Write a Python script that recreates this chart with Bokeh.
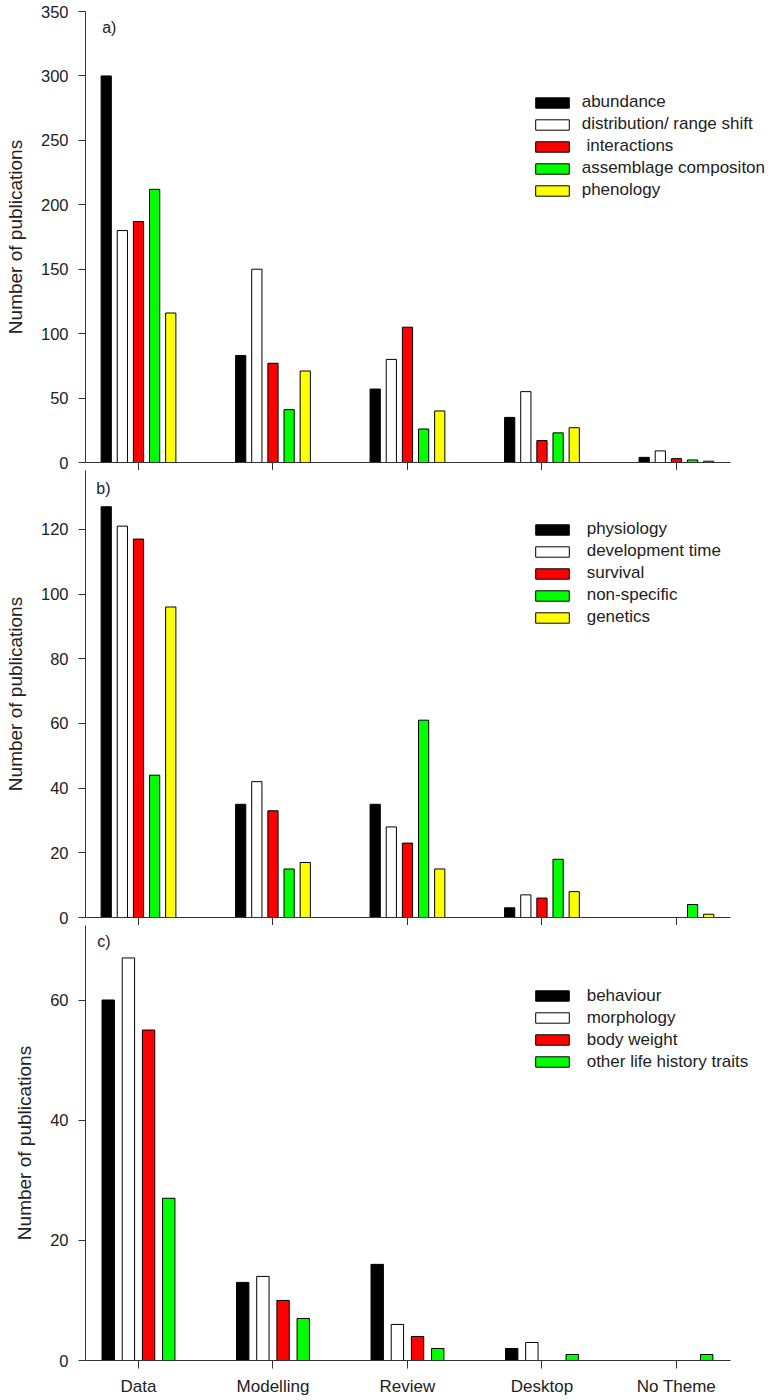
from bokeh.plotting import figure
from bokeh.layouts import column
from bokeh.models import Range1d, FixedTicker, Legend, LegendItem, Label
from bokeh.embed import file_html
from bokeh.resources import INLINE
import numpy as np

categories = ["Data", "Modelling", "Review", "Desktop", "No Theme"]

# panel a)
a_series = ["abundance", "distribution/ range shift", " interactions",
            "assemblage compositon", "phenology"]
a_abundance = [300, 83, 57, 35, 4]
a_distribution = [180, 150, 80, 55, 9]
a_interactions = [187, 77, 105, 17, 3]
a_assemblage = [212, 41, 26, 23, 2]
a_phenology = [116, 71, 40, 27, 1]
a_ticks = [0, 50, 100, 150, 200, 250, 300, 350]

# panel b)
b_series = ["physiology", "development time", "survival", "non-specific", "genetics"]
b_physiology = [127, 35, 35, 3, 0]
b_development = [121, 42, 28, 7, 0]
b_survival = [117, 33, 23, 6, 0]
b_nonspecific = [44, 15, 61, 18, 4]
b_genetics = [96, 17, 15, 8, 1]
b_ticks = [0, 20, 40, 60, 80, 100, 120]

# panel c)
c_series = ["behaviour", "morphology", "body weight", "other life history traits"]
c_behaviour = [60, 13, 16, 2, 0]
c_morphology = [67, 14, 6, 3, 0]
c_bodyweight = [55, 10, 4, 0, 0]
c_other = [27, 7, 2, 1, 1]
c_ticks = [0, 20, 40, 60]

colors5 = ["#000000", "#FFFFFF", "#FF0000", "#00FF00", "#FFFF00"]
colors4 = ["#000000", "#FFFFFF", "#FF0000", "#00FF00"]

FONT = "Liberation Sans"
TXT = "#222222"
AX = "#333333"
W = 776
LEFT = 85
X0, X1, XEND = -0.394, 4.4, 4.744


def make_panel(names, values, colors, yend, ticks, height, mtop, mbottom,
               show_x_labels, bar_w, step, leg_loc, leg_standoff, tag, tag_xy):
    p = figure(width=W, height=height, output_backend="svg", toolbar_location=None,
               x_range=Range1d(X0, XEND), y_range=Range1d(0, yend),
               min_border_left=LEFT, min_border_right=0,
               min_border_top=mtop, min_border_bottom=mbottom)
    p.outline_line_color = None
    p.xgrid.visible = False
    p.ygrid.visible = False
    p.background_fill_color = None
    p.border_fill_color = None

    x = np.arange(len(categories))
    n = len(names)
    items = []
    for i, (nm, vals, col) in enumerate(zip(names, values, colors)):
        off = (i - (n - 1) / 2) * step
        r = p.vbar(x=x + off, top=vals, bottom=0, width=bar_w,
                   fill_color=col, line_color="#000000", line_width=1)
        items.append(LegendItem(label=nm, renderers=[r]))

    leg = Legend(items=items, location=leg_loc, padding=0, spacing=2, margin=0,
                 glyph_width=42, glyph_height=13, label_height=13,
                 label_standoff=leg_standoff, border_line_color=None,
                 background_fill_alpha=0, label_text_font=FONT,
                 label_text_font_size="17px", label_text_color=TXT)
    p.add_layout(leg)

    # x axis
    xa = p.xaxis[0]
    xa.bounds = (X0, X1)
    xa.ticker = FixedTicker(ticks=list(x))
    xa.minor_tick_line_color = None
    xa.major_tick_in = 0
    xa.major_tick_out = 8
    xa.axis_line_color = AX
    xa.major_tick_line_color = AX
    xa.major_label_text_font = FONT
    xa.major_label_text_color = TXT
    if show_x_labels:
        xa.major_label_overrides = {int(i): c for i, c in zip(x, categories)}
        xa.major_label_text_font_size = "17px"
        xa.major_label_standoff = 8
    else:
        xa.major_label_overrides = {int(i): "" for i in x}
        xa.major_label_text_font_size = "1px"
        xa.major_label_standoff = 0

    # y axis
    ya = p.yaxis[0]
    ya.ticker = FixedTicker(ticks=ticks)
    ya.minor_tick_line_color = None
    ya.major_tick_in = 0
    ya.major_tick_out = 7
    ya.axis_line_color = AX
    ya.major_tick_line_color = AX
    ya.major_label_text_font = FONT
    ya.major_label_text_font_size = "16.5px"
    ya.major_label_text_color = TXT
    ya.major_label_standoff = 10
    ya.axis_label = "Number of publications"
    ya.axis_label_text_font = FONT
    ya.axis_label_text_font_size = "19px"
    ya.axis_label_text_font_style = "normal"
    ya.axis_label_text_color = TXT
    ya.axis_label_standoff = 12

    p.add_layout(Label(x=tag_xy[0], y=tag_xy[1], text=tag, text_font=FONT,
                       text_font_size="16px", text_color=TXT,
                       text_baseline="middle", text_align="left"))
    return p


pa = make_panel(a_series, [a_abundance, a_distribution, a_interactions, a_assemblage, a_phenology],
                colors5, 350, a_ticks, 470, 11, 8, False, 0.076, 0.12,
                (445.7, 261.7), 9, "a)", (-0.27, 337.8))
pb = make_panel(b_series, [b_physiology, b_development, b_survival, b_nonspecific, b_genetics],
                colors5, 138.2, b_ticks, 455, 0, 8, False, 0.076, 0.12,
                (445.7, 289.7), 14, "b)", (-0.314, 132.5))
pc = make_panel(c_series, [c_behaviour, c_morphology, c_bodyweight, c_other],
                colors4, 72.4, c_ticks, 473, 0, 36, True, 0.092, 0.15,
                (445.7, 288.3), 14, "c)", (-0.307, 69.7))

layout = column(pa, pb, pc, spacing=0)
open("out.html", "w").write(file_html(layout, INLINE))
